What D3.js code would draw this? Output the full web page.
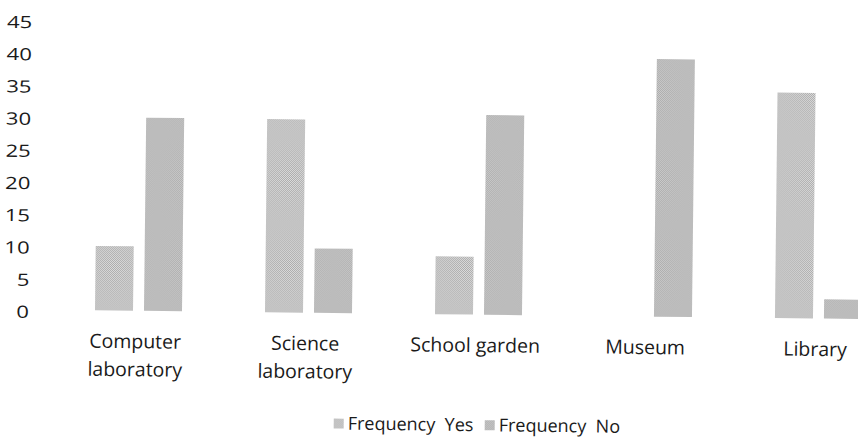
<!DOCTYPE html>
<html>
<head>
<meta charset="utf-8">
<script src="https://cdn.jsdelivr.net/npm/d3@7"></script>
<style>
  html, body { margin: 0; padding: 0; background: #fff; }
  svg { display: block; font-family: "Open Sans", sans-serif; }
  text { white-space: pre; fill: #1a1a1a; }
</style>
</head>
<body>
<svg id="chart" width="858" height="439"></svg>
<script>
// Facilities and how often they were reported as available
const categories = ["Computer laboratory", "Science laboratory", "School garden", "Museum", "Library"];
const categoryLines = [["Computer", "laboratory"], ["Science", "laboratory"], ["School garden"], ["Museum"], ["Library"]];
const seriesNames = ["Frequency  Yes", "Frequency  No"];
const yesValues = [10, 30, 9, 0, 35];
const noValues = [30, 10, 31, 40, 3];
const yTicks = [0, 5, 10, 15, 20, 25, 30, 35, 40, 45];

const svg = d3.select("#chart");

// Stippled grey fills, one per series
const defs = svg.append("defs");
const fills = [
  { id: "fillYes", a: "#ababab", b: "#dcdcdc" },
  { id: "fillNo", a: "#a4a4a4", b: "#d4d4d4" }
];
fills.forEach(f => {
  const p = defs.append("pattern")
    .attr("id", f.id).attr("width", 2).attr("height", 2)
    .attr("patternUnits", "userSpaceOnUse");
  p.append("rect").attr("width", 2).attr("height", 2).attr("fill", f.b);
  p.append("rect").attr("width", 1).attr("height", 1).attr("fill", f.a);
  p.append("rect").attr("x", 1).attr("y", 1).attr("width", 1).attr("height", 1).attr("fill", f.a);
});

// The printed page sits at a slight tilt, right side lower
const page = svg.append("g").attr("transform", "rotate(0.65,113,310.5)");

const x0 = d3.scaleBand().domain(categories).range([53.5, 903.5]);
const x1 = d3.scaleBand().domain(seriesNames)
  .range([0, x0.bandwidth()]).paddingInner(0.224).paddingOuter(0.847);
const y = d3.scaleLinear().domain([0, 45]).range([310.5, 20.7]);
const color = d3.scaleOrdinal().domain(seriesNames).range(["url(#fillYes)", "url(#fillNo)"]);

const rows = categories.map((c, i) => ({ cat: c, vals: [yesValues[i], noValues[i]] }));

// Bars
const groups = page.append("g").selectAll("g").data(rows).join("g")
  .attr("transform", d => `translate(${x0(d.cat)},0)`);
groups.selectAll("rect")
  .data(d => d.vals.map((v, j) => ({ key: seriesNames[j], v })))
  .join("rect")
  .filter(d => d.v > 0)
  .attr("x", d => x1(d.key))
  .attr("width", x1.bandwidth())
  .attr("y", d => y(d.v))
  .attr("height", d => y(0) - y(d.v))
  .attr("fill", d => color(d.key));

// Y axis: labels only
const yAxis = page.append("g")
  .attr("transform", "translate(29,2.5)")
  .call(d3.axisLeft(y).tickValues(yTicks).tickSize(0).tickPadding(0));
yAxis.select(".domain").remove();
yAxis.selectAll("text")
  .attr("font-family", "Open Sans, sans-serif")
  .attr("font-size", 17)
  .attr("fill", "#1a1a1a")
  .attr("transform", "scale(1.3,1)");

// Category labels
const labels = page.append("g").selectAll("text").data(categories).join("text")
  .attr("text-anchor", "middle")
  .attr("font-size", 19.5)
  .attr("x", d => x0(d) + x0.bandwidth() / 2 - 3)
  .attr("y", 348);
labels.each(function(d, i) {
  const t = d3.select(this);
  categoryLines[i].forEach((line, k) => {
    t.append("tspan")
      .attr("x", x0(d) + x0.bandwidth() / 2 - 3)
      .attr("dy", k === 0 ? 0 : 28)
      .text(line);
  });
});

// Legend
const legendX = [335, 486];
const legend = page.append("g").selectAll("g").data(seriesNames).join("g")
  .attr("transform", (d, i) => `translate(${legendX[i]},0)`);
legend.append("rect")
  .attr("x", 0).attr("y", 416).attr("width", 10).attr("height", 10)
  .attr("fill", d => color(d));
legend.append("text")
  .attr("x", 14).attr("y", 427)
  .attr("font-size", 18)
  .text(d => d);
</script>
</body>
</html>
